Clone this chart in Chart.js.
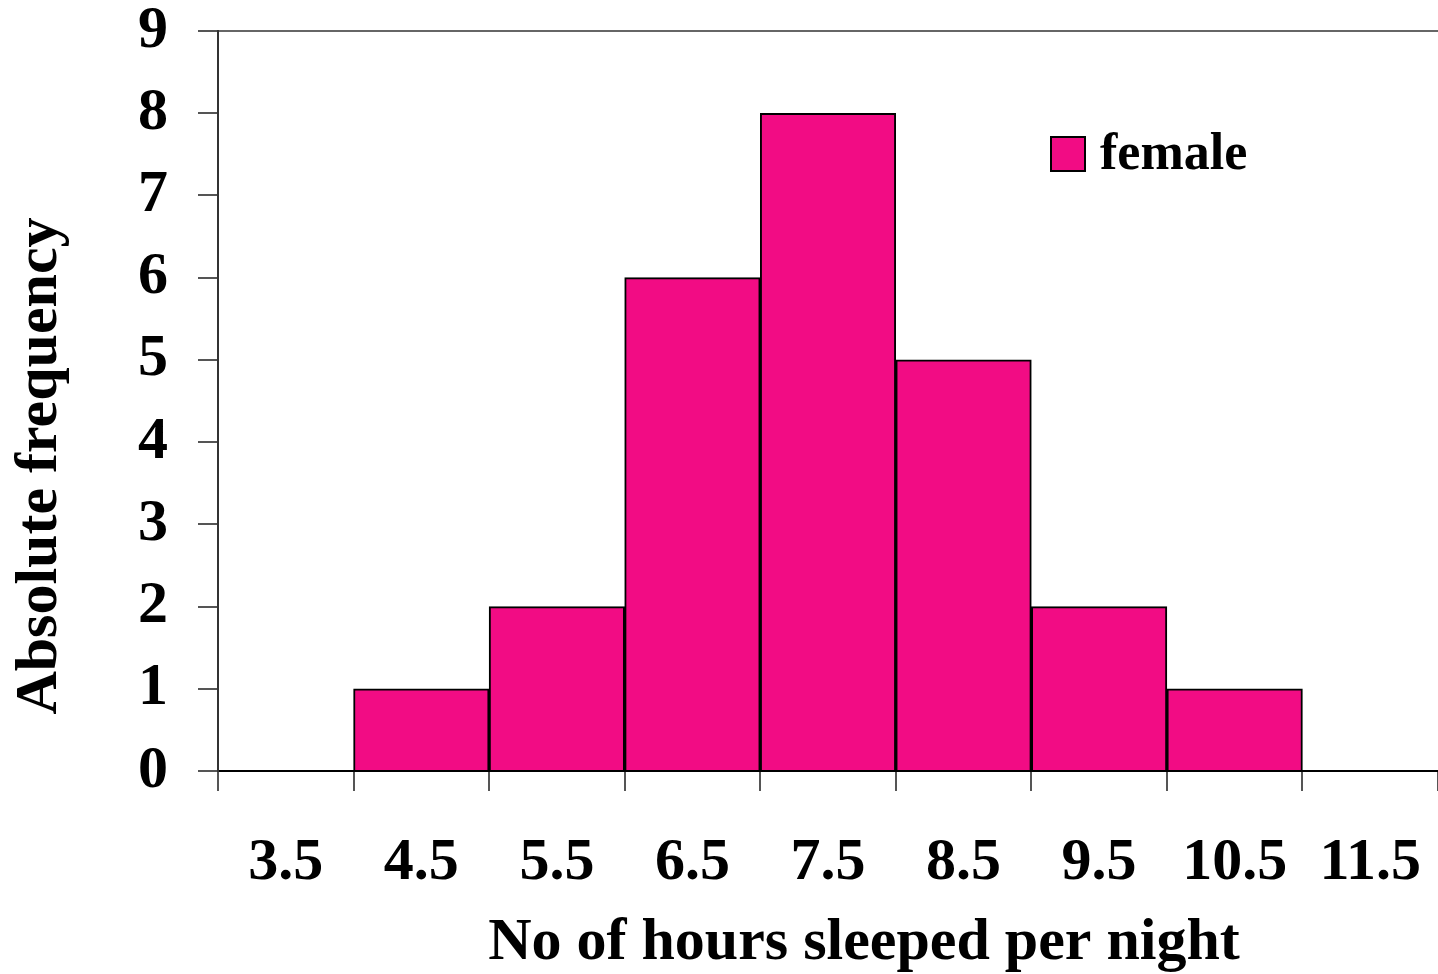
<!DOCTYPE html>
<html>
<head>
<meta charset="utf-8">
<script src="https://cdn.jsdelivr.net/npm/chart.js@4"></script>
<style>
html,body{margin:0;padding:0;background:#fff;}
#wrap{width:1438px;height:974px;position:relative;}
</style>
</head>
<body>
<div id="wrap"><canvas id="c" width="1438" height="974"></canvas></div>
<script>
const categories = ['3.5','4.5','5.5','6.5','7.5','8.5','9.5','10.5','11.5'];
const femaleCounts = [0, 1, 2, 6, 8, 5, 2, 1, 0];
const seriesLabel = 'female';
const xTitle = 'No of hours sleeped per night';
const yTitle = 'Absolute frequency';

const FONT = "'Liberation Serif', 'Times New Roman', serif";
const PINK = '#F20C84';

const decorPlugin = {
  id: 'decor',
  afterDraw(chart) {
    const ctx = chart.ctx;
    const a = chart.chartArea;
    const ds = chart.data.datasets[0];
    ctx.save();
    // legend inside the plot area
    const bx = a.left + 833, by = a.top + 106, s = 34;
    ctx.fillStyle = ds.backgroundColor;
    ctx.fillRect(bx, by, s, s);
    ctx.lineWidth = 2;
    ctx.strokeStyle = '#000';
    ctx.strokeRect(bx, by, s, s);
    ctx.fillStyle = '#000';
    ctx.font = "bold 52px " + FONT;
    ctx.textBaseline = 'middle';
    ctx.textAlign = 'left';
    ctx.fillText(ds.label, bx + s + 15, by + s / 2 + 2);
    // axis titles
    ctx.font = "bold 60px " + FONT;
    ctx.textAlign = 'center';
    ctx.textBaseline = 'middle';
    ctx.fillText(xTitle, a.left + 646, a.bottom + 172);
    ctx.translate(40, a.top + 435);
    ctx.rotate(-Math.PI / 2);
    ctx.fillText(yTitle, 0, 0);
    ctx.restore();
  }
};

new Chart(document.getElementById('c'), {
  type: 'bar',
  data: {
    labels: categories,
    datasets: [{
      label: seriesLabel,
      data: femaleCounts,
      backgroundColor: PINK,
      borderColor: '#000',
      borderWidth: 2,
      borderSkipped: 'bottom',
      barPercentage: 1,
      categoryPercentage: 1
    }]
  },
  options: {
    responsive: false,
    animation: false,
    devicePixelRatio: 1,
    layout: { padding: { top: 31, right: 0, left: 0, bottom: 0 } },
    plugins: { legend: { display: false }, tooltip: { enabled: false } },
    scales: {
      x: {
        afterFit(s) { s.height = 203; s.paddingLeft = 0; s.paddingRight = 0; },
        grid: { offset: true, drawOnChartArea: false, tickLength: 20, tickColor: '#555', lineWidth: 2 },
        border: { color: '#000', width: 2 },
        ticks: { color: '#000', font: { family: FONT, size: 60, weight: 'bold' }, padding: 36, maxRotation: 0, autoSkip: false },
        title: { display: false, text: xTitle }
      },
      y: {
        min: 0, max: 9,
        afterFit(s) { s.width = 218; s.paddingTop = 0; s.paddingBottom = 0; },
        grid: {
          tickLength: 20,
          color: (c) => (c.tick && c.tick.value === 9) ? '#666' : 'rgba(0,0,0,0)',
          tickColor: '#555',
          lineWidth: 2
        },
        border: { color: '#333', width: 2 },
        ticks: { stepSize: 1, color: '#000', font: { family: FONT, size: 60, weight: 'bold' }, padding: 30 },
        title: { display: false, text: yTitle }
      }
    }
  },
  plugins: [decorPlugin]
});
</script>
</body>
</html>
